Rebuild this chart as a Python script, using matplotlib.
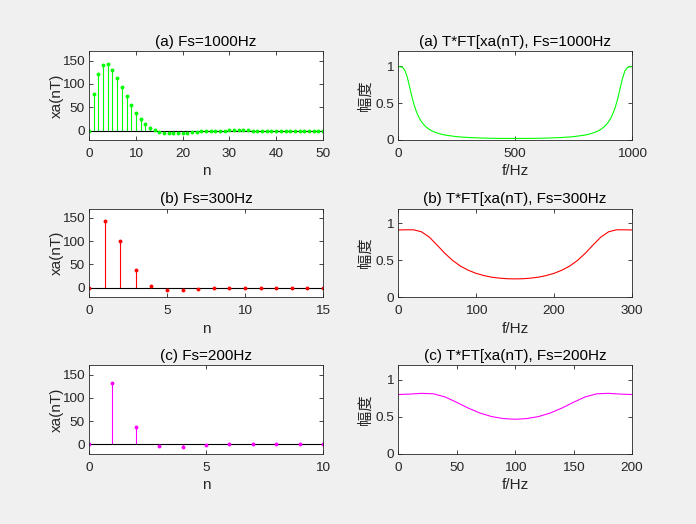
import numpy as np
import matplotlib
matplotlib.use('Agg')
import matplotlib.pyplot as plt

plt.rcParams['font.family'] = ['Liberation Sans', 'Noto Sans CJK SC', 'DejaVu Sans']

# sampled signal xa(nT), read from the stems
n1 = list(range(51))
x1 = [0, 78.4, 122.4, 141.0, 141.8, 131.0, 113.8, 93.7, 73.5, 54.7, 38.3, 24.8, 14.2, 6.2, 0.6,
      -3.0, -5.1, -6.0, -6.2, -5.8, -5.1, -4.2, -3.3, -2.5, -1.8, -1.2, -0.7, -0.3, -0.1, 0.1,
      0.2, 0.2, 0.2, 0.2, 0.2, 0.1, 0.1, 0.1, 0, 0, 0, 0, 0, 0, 0, 0, 0, 0, 0, 0, 0]
n2 = list(range(16))
x2 = [0, 142.9, 100.6, 38.3, 4.1, -5.8, -5.0, -2.2, -0.4, 0.2, 0.2, 0.1, 0, 0, 0, 0]
n3 = list(range(11))
x3 = [0, 131.0, 38.3, -3.0, -5.0, -1.2, 0.2, 0.2, 0.1, 0, 0]

# spectrum magnitudes T*|FT[xa(nT)]|
f1 = [0, 10, 20, 30, 40, 50, 60, 70, 80, 90, 100, 110, 120, 130, 140, 150, 160, 180, 200, 250,
      300, 350, 400, 450, 500, 550, 600, 650, 700, 750, 800, 820, 840, 850, 860, 870, 880, 890,
      900, 910, 920, 930, 940, 950, 960, 970, 980, 990, 1000]
X1 = [0.992, 0.991, 0.980, 0.936, 0.840, 0.707, 0.572, 0.457, 0.367, 0.298, 0.246, 0.206, 0.175,
      0.150, 0.130, 0.114, 0.101, 0.081, 0.066, 0.044, 0.033, 0.026, 0.022, 0.020, 0.020,
      0.020, 0.022, 0.026, 0.033, 0.044, 0.066, 0.081, 0.101, 0.114, 0.130, 0.150, 0.175,
      0.206, 0.246, 0.298, 0.367, 0.457, 0.572, 0.707, 0.840, 0.936, 0.980, 0.991, 0.992]
f2 = list(range(0, 301, 10))
X2 = [0.910, 0.912, 0.912, 0.885, 0.813, 0.705, 0.593, 0.496, 0.420, 0.364, 0.322, 0.292,
      0.270, 0.257, 0.249, 0.247, 0.249, 0.257, 0.270, 0.292, 0.322, 0.364, 0.420, 0.496,
      0.593, 0.705, 0.813, 0.885, 0.912, 0.912, 0.910]
f3 = list(range(0, 201, 10))
X3 = [0.803, 0.809, 0.819, 0.813, 0.771, 0.698, 0.619, 0.552, 0.504, 0.477, 0.468, 0.477,
      0.504, 0.552, 0.619, 0.698, 0.771, 0.813, 0.819, 0.809, 0.803]

titles_l = ['(a) Fs=1000Hz', '(b) Fs=300Hz', '(c) Fs=200Hz']
titles_r = ['(a) T*FT[xa(nT), Fs=1000Hz', '(b) T*FT[xa(nT), Fs=300Hz', '(c) T*FT[xa(nT), Fs=200Hz']
colors = ['#00ff00', '#ff0000', '#ff00ff']
xt_l = [[0, 10, 20, 30, 40, 50], [0, 5, 10, 15], [0, 5, 10]]
xt_r = [[0, 500, 1000], [0, 100, 200, 300], [0, 50, 100, 150, 200]]

ink = '#262626'
fig = plt.figure(figsize=(6.96, 5.24), dpi=100)
fig.patch.set_facecolor('#f0f0f0')

bottoms = [0.733, 0.433, 0.134]
h = 0.169
fs_tick = 9.7
fs_lab = 11


def style(ax):
    ax.tick_params(direction='in', top=True, right=True, length=3, width=0.6,
                   labelsize=fs_tick, colors=ink)
    ax.tick_params(axis='x', pad=6)
    ax.tick_params(axis='y', pad=3)
    for s in ax.spines.values():
        s.set_color(ink)
        s.set_linewidth(0.6)


stems = [(n1, x1), (n2, x2), (n3, x3)]
specs = [(f1, X1), (f2, X2), (f3, X3)]
for i in range(3):
    ax = fig.add_axes([0.128, bottoms[i], 0.336, h])
    n, x = stems[i]
    ax.vlines(n, 0, x, color=colors[i], lw=0.8)
    ax.axhline(0, color='k', lw=0.8)
    ax.plot(n, x, 'o', color=colors[i], ms=2.8, mec='none')
    ax.set_xlim(n[0], n[-1])
    ax.set_ylim(-20, 170)
    ax.set_yticks([0, 50, 100, 150])
    ax.set_xticks(xt_l[i])
    ax.set_title(titles_l[i], fontsize=fs_lab, color='k', pad=4)
    ax.set_xlabel('n', fontsize=fs_lab, color=ink, labelpad=3)
    ax.set_ylabel('xa(nT)', fontsize=fs_lab, color=ink, labelpad=-1)
    style(ax)

    ax2 = fig.add_axes([0.572, bottoms[i], 0.336, h])
    f, X = specs[i]
    ax2.plot(f, X, color=colors[i], lw=0.8)
    ax2.set_xlim(f[0], f[-1])
    ax2.set_ylim(0, 1.2)
    ax2.set_yticks([0, 0.5, 1])
    ax2.set_yticklabels(['0', '0.5', '1'])
    ax2.set_xticks(xt_r[i])
    ax2.set_title(titles_r[i], fontsize=fs_lab, color='k', pad=4)
    ax2.set_xlabel('f/Hz', fontsize=fs_lab, color=ink, labelpad=3)
    ax2.set_ylabel('幅度', fontsize=fs_lab, color=ink, labelpad=1,
                   family=['Noto Sans CJK SC', 'DejaVu Sans'])
    style(ax2)

fig.savefig('out.png', dpi=100, facecolor=fig.get_facecolor())
